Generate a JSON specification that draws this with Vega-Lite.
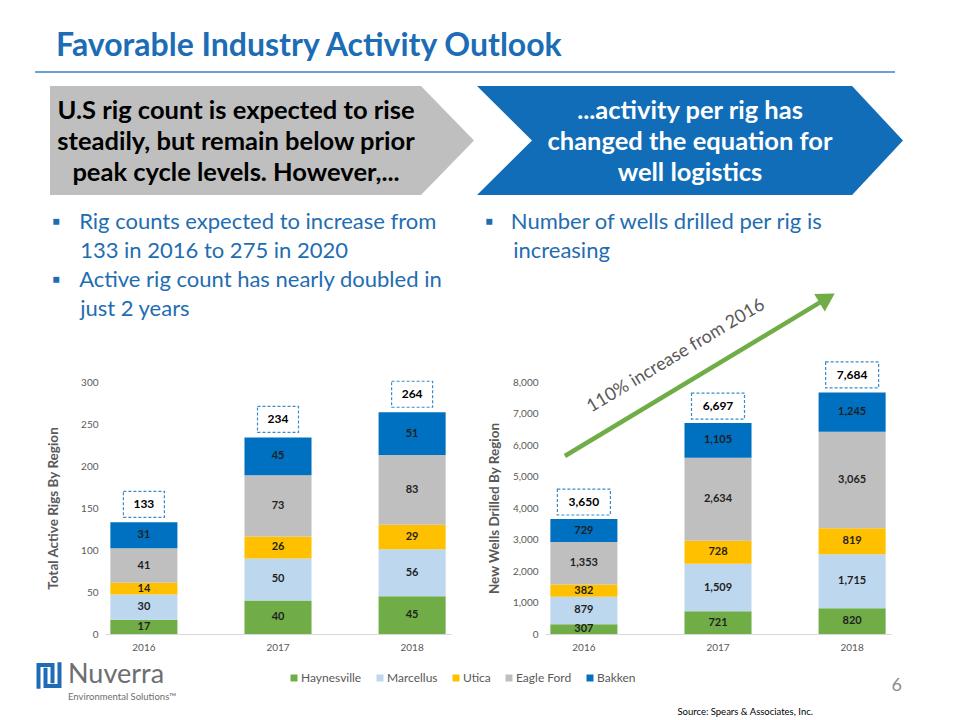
{
  "$schema": "https://vega.github.io/schema/vega-lite/v6.json",
  "background": "white",
  "padding": {"left": 30, "top": 30, "right": 0, "bottom": 0},
  "title": {"text": "Favorable Industry Activity Outlook", "anchor": "start", "frame": "group", "dx": 21, "offset": -17, "baseline": "alphabetic", "fontSize": 32, "fontWeight": "bold", "color": "#1C6DB5", "font": "Lato"},
  "datasets": {
    "rigs": [
      {"year": "2016", "region": "Haynesville", "value": 17},
      {"year": "2016", "region": "Marcellus", "value": 30},
      {"year": "2016", "region": "Utica", "value": 14},
      {"year": "2016", "region": "Eagle Ford", "value": 41},
      {"year": "2016", "region": "Bakken", "value": 31},
      {"year": "2017", "region": "Haynesville", "value": 40},
      {"year": "2017", "region": "Marcellus", "value": 50},
      {"year": "2017", "region": "Utica", "value": 26},
      {"year": "2017", "region": "Eagle Ford", "value": 73},
      {"year": "2017", "region": "Bakken", "value": 45},
      {"year": "2018", "region": "Haynesville", "value": 45},
      {"year": "2018", "region": "Marcellus", "value": 56},
      {"year": "2018", "region": "Utica", "value": 29},
      {"year": "2018", "region": "Eagle Ford", "value": 83},
      {"year": "2018", "region": "Bakken", "value": 51}
    ],
    "wells": [
      {"year": "2016", "region": "Haynesville", "value": 307},
      {"year": "2016", "region": "Marcellus", "value": 879},
      {"year": "2016", "region": "Utica", "value": 382},
      {"year": "2016", "region": "Eagle Ford", "value": 1353},
      {"year": "2016", "region": "Bakken", "value": 729},
      {"year": "2017", "region": "Haynesville", "value": 721},
      {"year": "2017", "region": "Marcellus", "value": 1509},
      {"year": "2017", "region": "Utica", "value": 728},
      {"year": "2017", "region": "Eagle Ford", "value": 2634},
      {"year": "2017", "region": "Bakken", "value": 1105},
      {"year": "2018", "region": "Haynesville", "value": 820},
      {"year": "2018", "region": "Marcellus", "value": 1715},
      {"year": "2018", "region": "Utica", "value": 819},
      {"year": "2018", "region": "Eagle Ford", "value": 3065},
      {"year": "2018", "region": "Bakken", "value": 1245}
    ],
    "rigTotals": [
      {"year": "2016", "total": 133},
      {"year": "2017", "total": 234},
      {"year": "2018", "total": 264}
    ],
    "wellTotals": [
      {"year": "2016", "total": 3650},
      {"year": "2017", "total": 6697},
      {"year": "2018", "total": 7684}
    ],
    "trend": [
      {"from_year": "2016", "to_year": "2018", "from": 5650, "to": 10662, "label": "110% increase from 2016", "label_year": "2017", "label_at": 8824}
    ],
    "regions": [
      {"region": "Haynesville"},
      {"region": "Marcellus"},
      {"region": "Utica"},
      {"region": "Eagle Ford"},
      {"region": "Bakken"}
    ]
  },
  "spacing": 2,
  "resolve": {"scale": {"color": "independent"}, "legend": {"color": "independent"}},
  "vconcat": [
    {
      "spacing": 14,
      "resolve": {"scale": {"color": "independent"}, "legend": {"color": "independent"}},
      "vconcat": [
        {
          "spacing": 12,
          "vconcat": [
            {
              "width": 860, "height": 2,
              "data": {"values": [{}]},
              "mark": {"type": "rect", "color": "#6A9FD8"},
              "encoding": {}
            },
            {
              "spacing": 14,
              "hconcat": [
                {"width": 1, "height": 1, "data": {"values": [{}]}, "mark": {"type": "rect", "opacity": 0}, "encoding": {}},
                {
                  "spacing": 3,
                  "hconcat": [
                    {
                      "width": 424, "height": 109,
                      "data": {"values": [{"label": "U.S rig count is expected to rise\nsteadily, but remain below prior\npeak cycle levels.  However,..."}]},
                      "layer": [
                        {"mark": {"type": "point", "shape": "M-1,-0.257L0.75,-0.257L1,0L0.75,0.257L-1,0.257Z", "size": 179776, "filled": true, "fill": "#BFBFBF", "opacity": 1, "strokeWidth": 0}, "encoding": {}},
                        {"mark": {"type": "text", "fontSize": 25.5, "fontWeight": "bold", "color": "#000000", "lineHeight": 31, "lineBreak": "\n", "dx": -26, "dy": -29.5}, "encoding": {"text": {"field": "label", "type": "nominal"}}}
                      ]
                    },
                    {
                      "width": 426, "height": 109,
                      "data": {"values": [{"label": "...activity per rig has\nchanged the equation for\nwell logistics"}]},
                      "layer": [
                        {"mark": {"type": "point", "shape": "M-1,-0.256L0.761,-0.256L1,0L0.761,0.256L-1,0.256L-0.742,0Z", "size": 181476, "filled": true, "fill": "#126DB8", "opacity": 1, "strokeWidth": 0}, "encoding": {}},
                        {"mark": {"type": "text", "fontSize": 25.5, "fontWeight": "bold", "color": "#FFFFFF", "lineHeight": 31, "lineBreak": "\n", "dy": -29.5}, "encoding": {"text": {"field": "label", "type": "nominal"}}}
                      ]
                    }
                  ]
                }
              ]
            }
          ]
        },
        {
          "spacing": 10,
          "resolve": {"scale": {"color": "independent"}, "legend": {"color": "independent"}},
          "hconcat": [
            {"width": 1, "height": 1, "data": {"values": [{}]}, "mark": {"type": "rect", "opacity": 0}, "encoding": {}},
            {
              "spacing": 34,
              "resolve": {"scale": {"color": "independent"}, "legend": {"color": "independent"}},
              "hconcat": [
                {
                  "width": 346, "height": 252,
                  "title": {"text": ["▪\u00a0\u00a0\u00a0\u200aRig counts expected to increase from", "\u200b\u00a0\u00a0\u00a0\u00a0\u00a0133 in 2016 to 275 in 2020", "▪\u00a0\u00a0\u00a0\u200aActive rig count has nearly doubled in", "\u200b\u00a0\u00a0\u00a0\u00a0\u00a0just 2 years"], "anchor": "start", "frame": "group", "dx": -53, "offset": 56, "fontSize": 22, "fontWeight": "normal", "color": "#1F6DB1", "lineHeight": 29, "font": "Lato"},
                  "data": {"name": "rigs"},
                  "transform": [{"stack": "value", "groupby": ["year"], "as": ["v0", "v1"]}],
                  "layer": [
                    {
                      "mark": {"type": "bar"},
                      "encoding": {
                        "x": {"field": "year", "type": "nominal", "title": null, "scale": {"paddingInner": 0.5, "paddingOuter": 0.04}},
                        "y": {"field": "v0", "type": "quantitative", "title": "Total Active Rigs By Region", "scale": {"domain": [0, 300], "nice": false}, "axis": {"values": [0, 50, 100, 150, 200, 250, 300], "titlePadding": 20}},
                        "y2": {"field": "v1"},
                        "color": {"field": "region", "type": "nominal", "scale": {"domain": ["Haynesville", "Marcellus", "Utica", "Eagle Ford", "Bakken"], "range": ["#70AD47", "#BDD7EE", "#FFC000", "#BFBFBF", "#0070C0"]}, "legend": null}
                      }
                    },
                    {
                      "transform": [{"fold": ["v0", "v1"], "as": ["edge", "pos"]}],
                      "mark": {"type": "text", "fontSize": 11, "fontWeight": "bold", "color": "#1F1F1F"},
                      "encoding": {
                        "x": {"field": "year", "type": "nominal", "title": null},
                        "y": {"field": "pos", "aggregate": "mean", "type": "quantitative", "title": "Total Active Rigs By Region", "axis": {"values": [0, 50, 100, 150, 200, 250, 300], "titlePadding": 20}},
                        "detail": {"field": "region", "type": "nominal"},
                        "text": {"field": "value", "type": "quantitative", "format": ","}
                      }
                    },
                    {
                      "data": {"name": "rigTotals"},
                      "mark": {"type": "point", "shape": "M-1,-0.634H1V0.634H-1Z", "size": 1681, "filled": true, "fill": "#FFFFFF", "stroke": "#3D8BC4", "strokeWidth": 1.2, "strokeDash": [3, 2], "opacity": 1, "yOffset": -18},
                      "encoding": {
                        "x": {"field": "year", "type": "nominal", "title": null},
                        "y": {"field": "total", "type": "quantitative", "title": "Total Active Rigs By Region", "axis": {"values": [0, 50, 100, 150, 200, 250, 300], "titlePadding": 20}}
                      }
                    },
                    {
                      "data": {"name": "rigTotals"},
                      "mark": {"type": "text", "fontSize": 12, "fontWeight": "bold", "color": "#000000", "yOffset": -18},
                      "encoding": {
                        "x": {"field": "year", "type": "nominal", "title": null},
                        "y": {"field": "total", "type": "quantitative", "title": "Total Active Rigs By Region", "axis": {"values": [0, 50, 100, 150, 200, 250, 300], "titlePadding": 20}},
                        "text": {"field": "total", "type": "quantitative", "format": ","}
                      }
                    }
                  ]
                },
                {
                  "width": 346, "height": 252,
                  "title": {"text": ["▪\u00a0\u00a0\u00a0Number of wells drilled per rig is", "\u200b\u00a0\u00a0\u00a0\u00a0\u00a0increasing"], "anchor": "start", "frame": "group", "dx": -60, "offset": 31, "fontSize": 22, "fontWeight": "normal", "color": "#1F6DB1", "lineHeight": 29, "font": "Lato"},
                  "data": {"name": "wells"},
                  "transform": [{"stack": "value", "groupby": ["year"], "as": ["v0", "v1"]}],
                  "layer": [
                    {
                      "mark": {"type": "bar"},
                      "encoding": {
                        "x": {"field": "year", "type": "nominal", "title": null, "scale": {"paddingInner": 0.5, "paddingOuter": 0.04}},
                        "y": {"field": "v0", "type": "quantitative", "title": "New Wells Drilled By Region", "scale": {"domain": [0, 8000], "nice": false}, "axis": {"values": [0, 1000, 2000, 3000, 4000, 5000, 6000, 7000, 8000], "labelExpr": "format(datum.value, ',')", "titlePadding": 11}},
                        "y2": {"field": "v1"},
                        "color": {"field": "region", "type": "nominal", "scale": {"domain": ["Haynesville", "Marcellus", "Utica", "Eagle Ford", "Bakken"], "range": ["#70AD47", "#BDD7EE", "#FFC000", "#BFBFBF", "#0070C0"]}, "legend": null}
                      }
                    },
                    {
                      "transform": [{"fold": ["v0", "v1"], "as": ["edge", "pos"]}],
                      "mark": {"type": "text", "fontSize": 11, "fontWeight": "bold", "color": "#1F1F1F"},
                      "encoding": {
                        "x": {"field": "year", "type": "nominal", "title": null},
                        "y": {"field": "pos", "aggregate": "mean", "type": "quantitative", "title": "New Wells Drilled By Region", "axis": {"values": [0, 1000, 2000, 3000, 4000, 5000, 6000, 7000, 8000], "labelExpr": "format(datum.value, ',')", "titlePadding": 11}},
                        "detail": {"field": "region", "type": "nominal"},
                        "text": {"field": "value", "type": "quantitative", "format": ","}
                      }
                    },
                    {
                      "data": {"name": "wellTotals"},
                      "mark": {"type": "point", "shape": "M-1,-0.49H1V0.49H-1Z", "size": 2809, "filled": true, "fill": "#FFFFFF", "stroke": "#3D8BC4", "strokeWidth": 1.2, "strokeDash": [3, 2], "opacity": 1, "yOffset": -17},
                      "encoding": {
                        "x": {"field": "year", "type": "nominal", "title": null},
                        "y": {"field": "total", "type": "quantitative", "title": "New Wells Drilled By Region", "axis": {"values": [0, 1000, 2000, 3000, 4000, 5000, 6000, 7000, 8000], "labelExpr": "format(datum.value, ',')", "titlePadding": 11}}
                      }
                    },
                    {
                      "data": {"name": "wellTotals"},
                      "mark": {"type": "text", "fontSize": 12, "fontWeight": "bold", "color": "#000000", "yOffset": -17},
                      "encoding": {
                        "x": {"field": "year", "type": "nominal", "title": null},
                        "y": {"field": "total", "type": "quantitative", "title": "New Wells Drilled By Region", "axis": {"values": [0, 1000, 2000, 3000, 4000, 5000, 6000, 7000, 8000], "labelExpr": "format(datum.value, ',')", "titlePadding": 11}},
                        "text": {"field": "total", "type": "quantitative", "format": ","}
                      }
                    },
                    {
                      "data": {"name": "trend"},
                      "mark": {"type": "rule", "color": "#70AD47", "strokeWidth": 4.5, "xOffset": -19, "x2Offset": -25},
                      "encoding": {
                        "x": {"field": "from_year", "type": "nominal", "title": null},
                        "x2": {"field": "to_year"},
                        "y": {"field": "from", "type": "quantitative", "title": "New Wells Drilled By Region", "axis": {"values": [0, 1000, 2000, 3000, 4000, 5000, 6000, 7000, 8000], "labelExpr": "format(datum.value, ',')", "titlePadding": 11}},
                        "y2": {"field": "to"}
                      }
                    },
                    {
                      "data": {"name": "trend"},
                      "mark": {"type": "point", "shape": "triangle-up", "size": 420, "angle": 59, "filled": true, "fill": "#70AD47", "opacity": 1, "strokeWidth": 0, "xOffset": -25},
                      "encoding": {
                        "x": {"field": "to_year", "type": "nominal", "title": null},
                        "y": {"field": "to", "type": "quantitative", "title": "New Wells Drilled By Region", "axis": {"values": [0, 1000, 2000, 3000, 4000, 5000, 6000, 7000, 8000], "labelExpr": "format(datum.value, ',')", "titlePadding": 11}}
                      }
                    },
                    {
                      "data": {"name": "trend"},
                      "mark": {"type": "text", "fontSize": 18, "color": "#595959", "angle": -31, "xOffset": -42},
                      "encoding": {
                        "x": {"field": "label_year", "type": "nominal", "title": null},
                        "y": {"field": "label_at", "type": "quantitative", "title": "New Wells Drilled By Region", "axis": {"values": [0, 1000, 2000, 3000, 4000, 5000, 6000, 7000, 8000], "labelExpr": "format(datum.value, ',')", "titlePadding": 11}},
                        "text": {"field": "label", "type": "nominal"}
                      }
                    }
                  ]
                }
              ]
            }
          ]
        }
      ]
    },
    {
      "spacing": 0,
      "resolve": {"scale": {"color": "independent"}, "legend": {"color": "independent"}},
      "hconcat": [
        {
          "width": 28, "height": 27,
          "data": {"values": [{}]},
          "mark": {"type": "point", "shape": "M-0.75,0.95V-0.75H0.25V0.55M-0.25,-0.55V0.75H0.75V-0.95", "size": 784, "filled": false, "stroke": "#1F6BB5", "strokeWidth": 4, "opacity": 1},
          "encoding": {}
        },
        {
          "width": 217, "height": 40,
          "data": {"values": [{"name": "Nuverra", "tag": "Environmental Solutions™"}]},
          "layer": [
            {"mark": {"type": "text", "align": "left", "baseline": "top", "fontSize": 27, "color": "#6D6E71"}, "encoding": {"text": {"field": "name", "type": "nominal"}, "x": {"value": 0}, "y": {"value": 0}}},
            {"mark": {"type": "text", "align": "left", "baseline": "bottom", "fontSize": 9.5, "color": "#6D6E71"}, "encoding": {"text": {"field": "tag", "type": "nominal"}, "x": {"value": 0}, "y": {"value": "height"}}}
          ]
        },
        {
          "width": 1, "height": 1,
          "data": {"name": "regions"},
          "mark": {"type": "square", "opacity": 0},
          "encoding": {
            "color": {"field": "region", "type": "nominal", "scale": {"domain": ["Haynesville", "Marcellus", "Utica", "Eagle Ford", "Bakken"], "range": ["#70AD47", "#BDD7EE", "#FFC000", "#BFBFBF", "#0070C0"]},
              "legend": {"orient": "none", "legendX": 0, "legendY": 10, "direction": "horizontal", "title": null, "symbolType": "square", "symbolSize": 49, "symbolOpacity": 1, "symbolStrokeWidth": 0, "labelFontSize": 12, "labelColor": "#595959", "labelFont": "Lato", "columnPadding": 12, "labelOffset": 1}}
          }
        },
        {
          "width": 177, "height": 55,
          "data": {"values": [{"src": "Source: Spears & Associates, Inc."}]},
          "mark": {"type": "text", "align": "right", "baseline": "bottom", "fontSize": 9.5, "color": "#000000"},
          "encoding": {"text": {"field": "src", "type": "nominal"}, "x": {"value": "width"}, "y": {"value": "height"}}
        },
        {
          "width": 89, "height": 33,
          "data": {"values": [{"p": "6"}]},
          "mark": {"type": "text", "align": "right", "baseline": "bottom", "fontSize": 18, "color": "#8C8C8C"},
          "encoding": {"text": {"field": "p", "type": "nominal"}, "x": {"value": "width"}, "y": {"value": "height"}}
        }
      ]
    }
  ],
  "config": {
    "font": "Lato",
    "view": {"stroke": null},
    "axis": {"labelFont": "Lato", "titleFont": "Lato", "labelColor": "#595959", "titleColor": "#595959", "grid": false, "ticks": false},
    "axisX": {"labelAngle": 0, "labelFontSize": 10, "labelPadding": 8, "domainColor": "#D9D9D9"},
    "axisY": {"domain": false, "labelFontSize": 10, "labelPadding": 7, "titleFontSize": 13.5, "titleFontWeight": "bold"},
    "text": {"font": "Lato"}
  }
}
